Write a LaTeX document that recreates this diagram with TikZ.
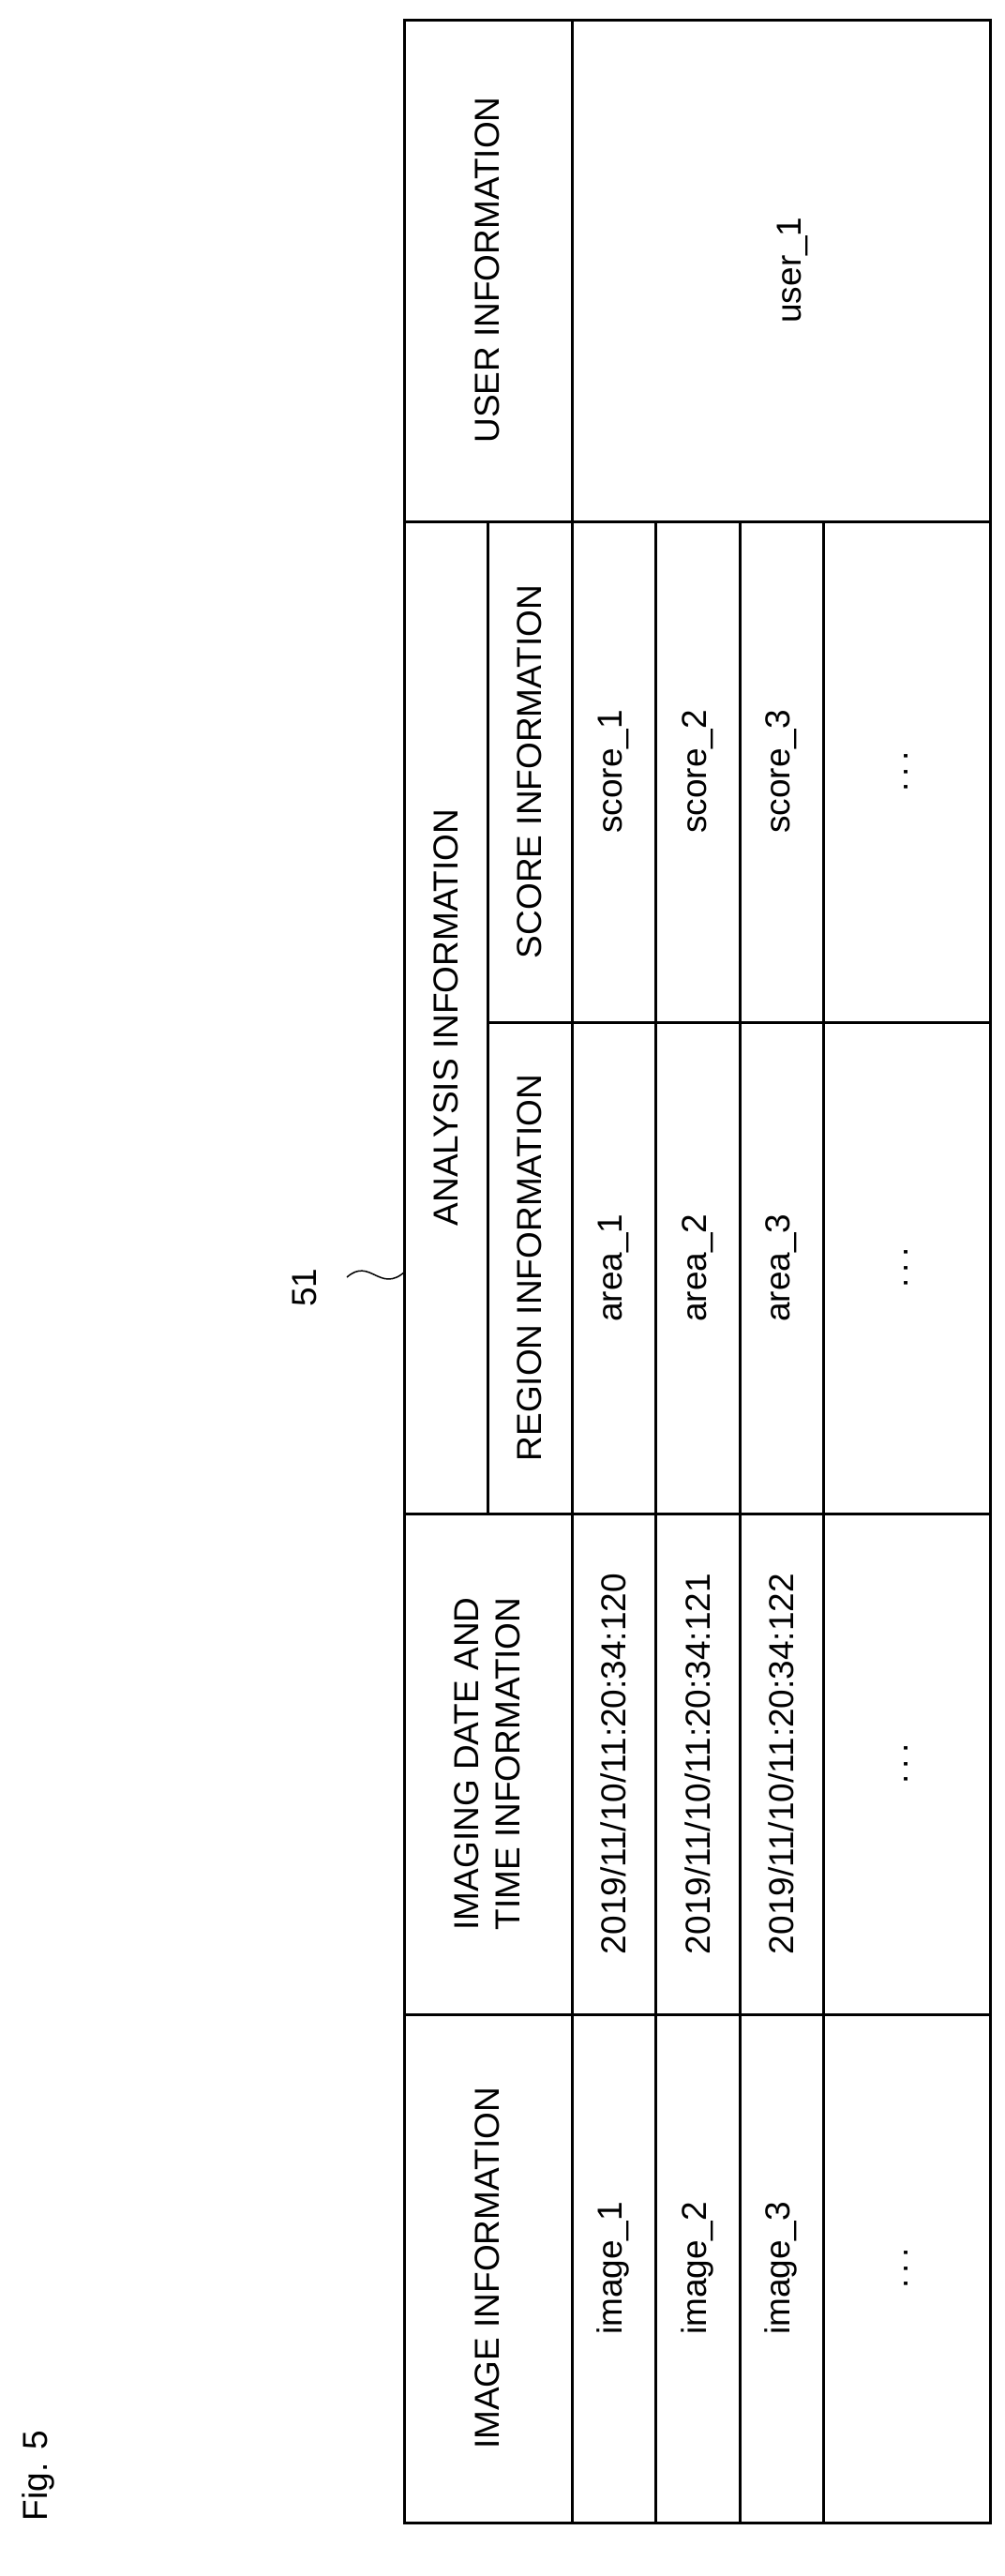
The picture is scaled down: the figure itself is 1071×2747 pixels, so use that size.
\documentclass[tikz,border=0pt]{standalone}
\usepackage{fontspec}
\setmainfont{Liberation Sans}
\begin{document}
\begin{tikzpicture}[x=1pt,y=-1pt]
\tikzset{grid/.style={line width=3pt},
txt/.style={rotate=90,font=\fontsize{37}{44}\selectfont,align=center,inner sep=0pt}}
\useasboundingbox (0,0) rectangle (1071,2747);
% outer frame and lines
\draw[grid] (431,21) rectangle (1056,2690);
\draw[grid] (610,21) -- (610,2690);
\foreach \x in {699,789,878} \draw[grid] (\x,556) -- (\x,2690);
\draw[grid] (520,556) -- (520,1614);
\foreach \y in {556,1614,2148} \draw[grid] (431,\y) -- (1056,\y);
\draw[grid] (520,1090) -- (1056,1090);
% headers
\node[txt] (himg) at (520,2419) {IMAGE INFORMATION};
\node[txt] (hdate) at (520,1881) {IMAGING DATE AND\\TIME INFORMATION};
\node[txt] (hana) at (476,1085) {ANALYSIS INFORMATION};
\node[txt] (hreg) at (565,1352) {REGION INFORMATION};
\node[txt] (hsc) at (565,823) {SCORE INFORMATION};
\node[txt] (husr) at (520,288) {USER INFORMATION};
\node[txt] (usr) at (845,288) {user\_1};
% data rows
\foreach \i/\x in {1/654,2/744,3/833}{
  \node[txt] (img\i) at (\x,2419) {image\_\i};
  \node[txt] (date\i) at (\x,1881) {2019/11/10/11:20:34:12\the\numexpr\i-1\relax};
  \node[txt] (area\i) at (\x,1352) {area\_\i};
  \node[txt] (score\i) at (\x,823) {score\_\i};
}
\foreach \y/\n in {2419/img,1881/date,1352/area,823/score}
  \node[txt] (dots\n) at (967,\y) {.\hspace{6pt}.\hspace{6pt}.};
% label
\node[txt] (ref) at (325,1373) {51};
\coordinate (refa) at (370,1362);
\coordinate (refb) at (432,1356);
\draw[line width=1.5pt] (refa) .. controls (395,1340) and (405,1380) .. (refb);
\node[txt] (fig) at (41,2640) {Fig. 5};
\end{tikzpicture}
\end{document}
